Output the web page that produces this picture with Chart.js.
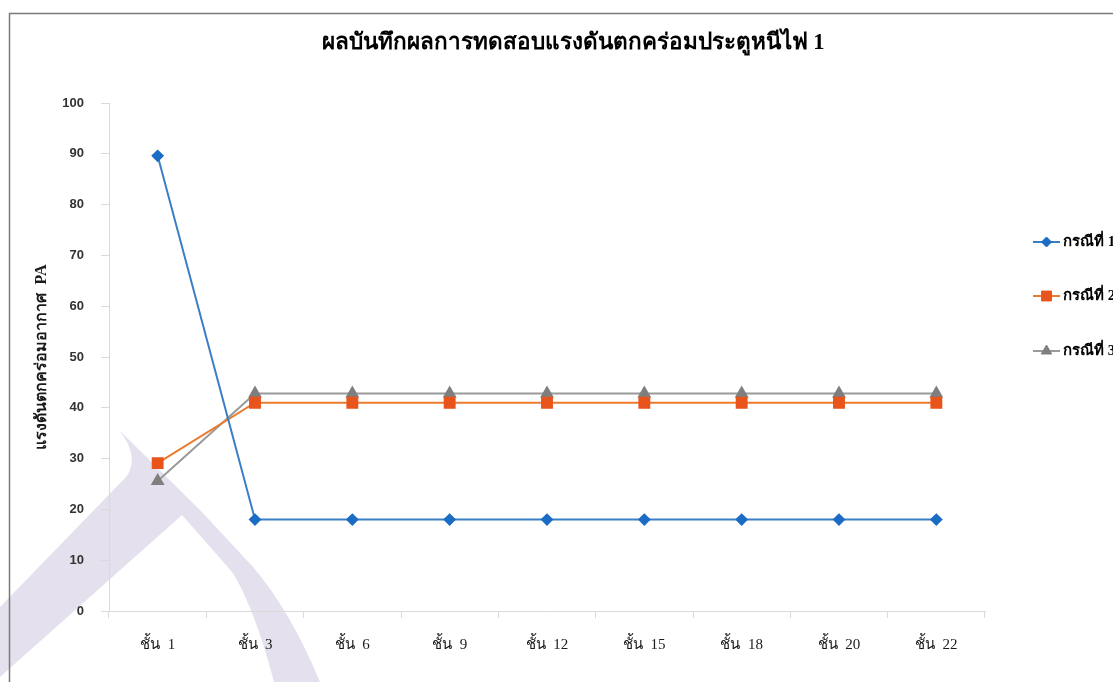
<!DOCTYPE html>
<html>
<head>
<meta charset="utf-8">
<script src="https://cdn.jsdelivr.net/npm/chart.js@4.4.1/dist/chart.umd.min.js"></script>
<style>
  html, body { margin: 0; padding: 0; background: #ffffff; overflow: hidden; }
  #wrap { width: 1113px; height: 682px; position: relative; }
</style>
</head>
<body>
<div id="wrap"><canvas id="c" width="1113" height="682"></canvas></div>
<script>
// Floors tested
const floors = ['ชั้น  1', 'ชั้น  3', 'ชั้น  6', 'ชั้น  9', 'ชั้น  12', 'ชั้น  15', 'ชั้น  18', 'ชั้น  20', 'ชั้น  22'];

// Pressure difference across the fire door (Pa), one array per test case
const case1 = [89.6, 18, 18, 18, 18, 18, 18, 18, 18];
const case2 = [29.1, 41, 41, 41, 41, 41, 41, 41, 41];
const case3 = [25.6, 42.8, 42.8, 42.8, 42.8, 42.8, 42.8, 42.8, 42.8];

const seriesNames = ['กรณีที่ 1', 'กรณีที่ 2', 'กรณีที่ 3'];

const yTicks = { min: 0, max: 100, step: 10 };

const titleText = 'ผลบันทึกผลการทดสอบแรงดันตกคร่อมประตูหนีไฟ 1';
const yTitleText = 'แรงดันตกคร่อมอากาศ  PA';

const thaiSerif = '"Liberation Serif", "DejaVu Serif", "Noto Serif", serif';
const thaiSans = '"Liberation Sans", "DejaVu Sans", "Noto Sans", sans-serif';

// Page frame and the pale watermark behind the plot
const backdrop = {
  id: 'backdrop',
  beforeDraw(chart) {
    const ctx = chart.ctx;
    ctx.save();
    ctx.fillStyle = '#ffffff';
    ctx.fillRect(0, 0, chart.width, chart.height);

    ctx.fillStyle = '#e4e0ee';
    ctx.beginPath();
    ctx.moveTo(0, 607);
    ctx.lineTo(127, 476);
    ctx.quadraticCurveTo(140, 455, 118, 429);
    ctx.lineTo(200, 510);
    ctx.lineTo(253, 567);
    ctx.quadraticCurveTo(290, 610, 320, 682);
    ctx.lineTo(274, 682);
    ctx.quadraticCurveTo(255, 610, 233, 573);
    ctx.lineTo(182, 515);
    ctx.lineTo(0, 677);
    ctx.closePath();
    ctx.fill();

    ctx.strokeStyle = '#7a7a7a';
    ctx.lineWidth = 1.5;
    ctx.beginPath();
    ctx.moveTo(9.5, chart.height);
    ctx.lineTo(9.5, 13.5);
    ctx.lineTo(chart.width, 13.5);
    ctx.stroke();
    ctx.restore();
  }
};

// Chart heading, centred over the whole page width
const heading = {
  id: 'heading',
  afterDraw(chart) {
    const ctx = chart.ctx;
    ctx.save();
    ctx.fillStyle = '#000000';
    ctx.font = 'bold 22.5px ' + thaiSerif;
    ctx.textAlign = 'center';
    ctx.textBaseline = 'middle';
    ctx.fillText(titleText, 573, 43);
    ctx.restore();
  }
};

// Legend: line sample with marker, then the series name
const sideLegend = {
  id: 'sideLegend',
  afterDraw(chart) {
    const ctx = chart.ctx;
    const ys = [242, 296, 351];
    ctx.save();
    chart.data.datasets.forEach((ds, i) => {
      const y = ys[i];
      ctx.strokeStyle = ds.borderColor;
      ctx.lineWidth = 2;
      ctx.beginPath();
      ctx.moveTo(1033, y);
      ctx.lineTo(1060, y);
      ctx.stroke();
      ctx.fillStyle = ds.pointBackgroundColor;
      ctx.strokeStyle = ds.pointBorderColor;
      ctx.lineWidth = 1;
      Chart.helpers.drawPoint(ctx, {
        pointStyle: ds.pointStyle, radius: ds.pointRadius, rotation: 0, borderWidth: 1
      }, 1046.5, y);
      ctx.fillStyle = '#000000';
      ctx.font = 'bold 15px ' + thaiSerif;
      ctx.textBaseline = 'middle';
      ctx.textAlign = 'left';
      ctx.fillText(ds.label, 1063, y);
    });
    ctx.restore();
  }
};

new Chart(document.getElementById('c'), {
  type: 'line',
  data: {
    labels: floors,
    datasets: [
      {
        label: seriesNames[0], data: case1,
        borderColor: '#3a7fc6', borderWidth: 2,
        pointStyle: 'rectRot', pointRadius: 5, pointHoverRadius: 5,
        pointBackgroundColor: '#1b6cc4', pointBorderColor: '#1b6cc4'
      },
      {
        label: seriesNames[1], data: case2,
        borderColor: '#ec7b2e', borderWidth: 2,
        pointStyle: 'rect', pointRadius: 7, pointHoverRadius: 7,
        pointBackgroundColor: '#e8541b', pointBorderColor: '#e8541b'
      },
      {
        label: seriesNames[2], data: case3,
        borderColor: '#9a9a9a', borderWidth: 2,
        pointStyle: 'triangle', pointRadius: 6, pointHoverRadius: 6,
        pointBackgroundColor: '#7f7f7f', pointBorderColor: '#7f7f7f'
      }
    ]
  },
  options: {
    responsive: false,
    animation: false,
    events: [],
    layout: { padding: { left: 0, right: 128, top: 103, bottom: 0 } },
    plugins: {
      legend: { display: false },
      tooltip: { enabled: false },
      title: { display: false }
    },
    scales: {
      x: {
        type: 'category',
        offset: true,
        grid: {
          offset: true, drawOnChartArea: false, drawTicks: true,
          tickLength: 7, tickColor: '#d9d9d9'
        },
        border: { color: '#d9d9d9', width: 1 },
        ticks: {
          color: '#1a1a1a', padding: 18, maxRotation: 0,
          font: { family: thaiSerif, size: 15 }
        },
        afterFit(scale) { scale.height = 71; }
      },
      y: {
        min: yTicks.min, max: yTicks.max,
        grid: {
          drawOnChartArea: false, drawTicks: true,
          tickLength: 8, tickColor: '#d9d9d9'
        },
        border: { color: '#d9d9d9', width: 1 },
        ticks: {
          stepSize: yTicks.step, color: '#333333', padding: 17,
          font: { family: thaiSans, size: 13, weight: 'bold' }
        },
        title: {
          display: true, text: yTitleText, color: '#1a1a1a',
          font: { family: thaiSerif, size: 16, weight: 'bold', lineHeight: 1.2 },
          padding: { top: 32, bottom: 0 }
        },
        afterFit(scale) { scale.width = 109; }
      }
    }
  },
  plugins: [backdrop, heading, sideLegend]
});
</script>
</body>
</html>
